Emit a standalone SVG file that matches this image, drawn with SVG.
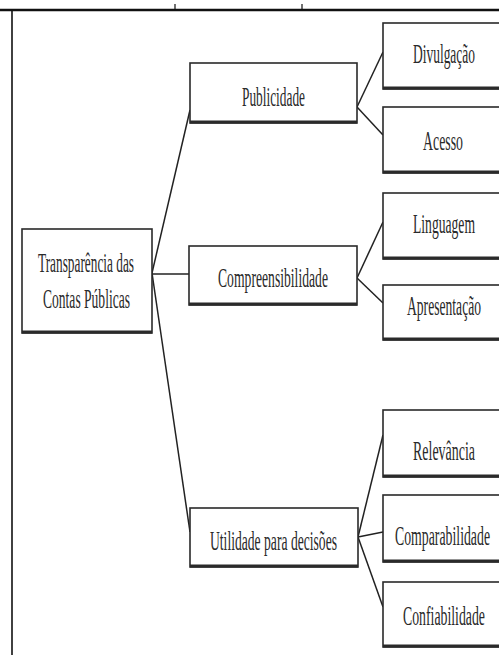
<svg xmlns="http://www.w3.org/2000/svg" width="499" height="655" viewBox="0 0 499 655">
<style>
.box{fill:#fff;stroke:#2a2a2a;stroke-width:1.6}
.shadow{stroke:#2a2a2a;stroke-width:3}
.t{font-family:"Liberation Serif","Times New Roman",serif;font-size:28px;fill:#2a2a2a;text-anchor:start}
.c{stroke:#222;stroke-width:1.5;fill:none}
.frame{stroke:#111;fill:none}
</style>
<rect width="499" height="655" fill="#fff"/>
<g id="frame">
<line class="frame" x1="0" y1="10" x2="499" y2="10" stroke-width="2.5"/>
<line class="frame" x1="12" y1="10" x2="12" y2="655" stroke-width="1.6"/>
<line class="frame" x1="175" y1="4" x2="175" y2="10" stroke-width="1.2"/>
<line class="frame" x1="302" y1="4" x2="302" y2="10" stroke-width="1.2"/>
</g>
<g id="connectors">
<line class="c" x1="152" y1="273" x2="190" y2="110"/>
<line class="c" x1="152" y1="274" x2="190" y2="274" stroke-width="2"/>
<line class="c" x1="152" y1="273" x2="190" y2="532"/>
<line class="c" x1="357" y1="107" x2="383" y2="52"/>
<line class="c" x1="357" y1="107" x2="383" y2="135"/>
<line class="c" x1="357" y1="278" x2="383" y2="222"/>
<line class="c" x1="357" y1="278" x2="383" y2="303"/>
<line class="c" x1="358" y1="537" x2="383" y2="435"/>
<line class="c" x1="358" y1="537" x2="383" y2="532" stroke-width="2.2"/>
<line class="c" x1="358" y1="537" x2="383" y2="607"/>
</g>
<g id="root">
<rect class="box" x="22" y="229" width="130" height="104"/>
<line class="shadow" x1="22" y1="332" x2="152" y2="332"/>
<text class="t" x="38" y="272" textLength="96" lengthAdjust="spacingAndGlyphs">Transparência das</text>
<text class="t" x="43" y="308" textLength="87" lengthAdjust="spacingAndGlyphs">Contas Públicas</text>
</g>
<g id="publicidade">
<rect class="box" x="190" y="63" width="167" height="60"/>
<line class="shadow" x1="190" y1="122" x2="357" y2="122"/>
<text class="t" x="242" y="106" textLength="63" lengthAdjust="spacingAndGlyphs">Publicidade</text>
</g>
<g id="compreensibilidade">
<rect class="box" x="189" y="246" width="168" height="59"/>
<line class="shadow" x1="189" y1="304" x2="357" y2="304"/>
<text class="t" x="218" y="287" textLength="110" lengthAdjust="spacingAndGlyphs">Compreensibilidade</text>
</g>
<g id="utilidade">
<rect class="box" x="190" y="508" width="168" height="59"/>
<line class="shadow" x1="190" y1="566" x2="358" y2="566"/>
<text class="t" x="210" y="550" textLength="127" lengthAdjust="spacingAndGlyphs">Utilidade para decisões</text>
</g>
<g id="divulgacao">
<rect class="box" x="383" y="23" width="118" height="66"/>
<line class="shadow" x1="383" y1="88" x2="501" y2="88"/>
<text class="t" x="413" y="63" textLength="62" lengthAdjust="spacingAndGlyphs">Divulgação</text>
</g>
<g id="acesso">
<rect class="box" x="383" y="107" width="118" height="66"/>
<line class="shadow" x1="383" y1="172" x2="501" y2="172"/>
<text class="t" x="423" y="150" textLength="40" lengthAdjust="spacingAndGlyphs">Acesso</text>
</g>
<g id="linguagem">
<rect class="box" x="383" y="193" width="118" height="66"/>
<line class="shadow" x1="383" y1="258" x2="501" y2="258"/>
<text class="t" x="413" y="233" textLength="62" lengthAdjust="spacingAndGlyphs">Linguagem</text>
</g>
<g id="apresentacao">
<rect class="box" x="383" y="285" width="118" height="55"/>
<line class="shadow" x1="383" y1="339" x2="501" y2="339"/>
<text class="t" x="407" y="315" textLength="74" lengthAdjust="spacingAndGlyphs">Apresentação</text>
</g>
<g id="relevancia">
<rect class="box" x="383" y="410" width="118" height="67"/>
<line class="shadow" x1="383" y1="476" x2="501" y2="476"/>
<text class="t" x="413" y="460" textLength="62" lengthAdjust="spacingAndGlyphs">Relevância</text>
</g>
<g id="comparabilidade">
<rect class="box" x="383" y="495" width="118" height="67"/>
<line class="shadow" x1="383" y1="561" x2="501" y2="561"/>
<text class="t" x="395" y="545" textLength="95" lengthAdjust="spacingAndGlyphs">Comparabilidade</text>
</g>
<g id="confiabilidade">
<rect class="box" x="383" y="582" width="118" height="65"/>
<line class="shadow" x1="383" y1="646" x2="501" y2="646"/>
<text class="t" x="403" y="625" textLength="82" lengthAdjust="spacingAndGlyphs">Confiabilidade</text>
</g>
</svg>
